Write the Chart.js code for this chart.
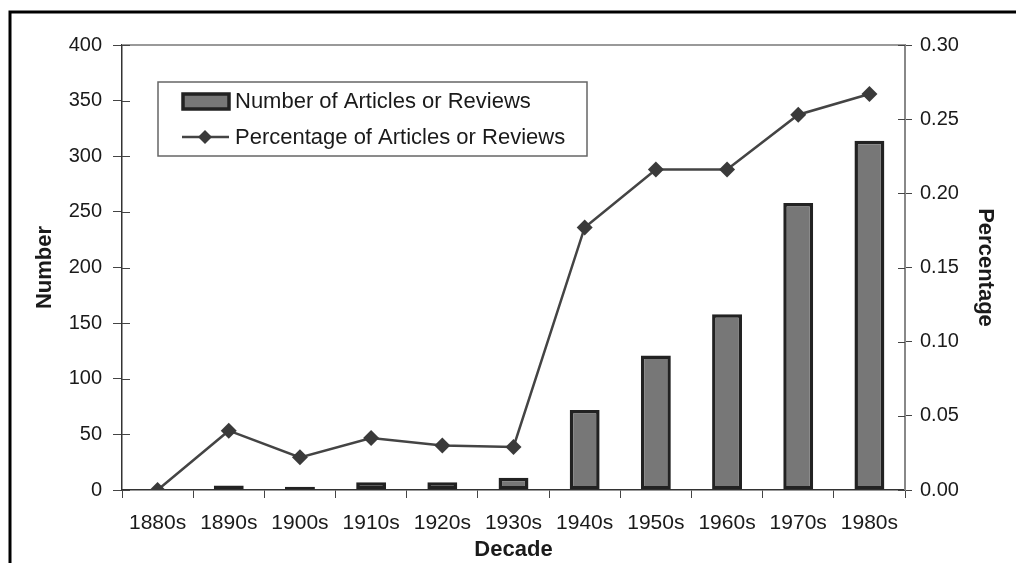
<!DOCTYPE html>
<html>
<head>
<meta charset="utf-8">
<script src="https://cdn.jsdelivr.net/npm/chart.js@4.4.0/dist/chart.umd.min.js"></script>
<style>
  html, body { margin: 0; padding: 0; background: #fff; overflow: hidden; }
  canvas { display: block; }
</style>
</head>
<body>
<canvas id="chart" width="1016" height="563"></canvas>
<script>
"use strict"

// data
const decades = ['1880s', '1890s', '1900s', '1910s', '1920s', '1930s', '1940s', '1950s', '1960s', '1970s', '1980s'];
const articleCounts = [0, 4, 3, 7, 7, 11, 72, 121, 158, 258, 314];
const articleShares = [0.000, 0.040, 0.022, 0.035, 0.030, 0.029, 0.177, 0.216, 0.216, 0.253, 0.267];
const countLabel = 'Number of Articles or Reviews';
const shareLabel = 'Percentage of Articles or Reviews';

const FONT = 'Liberation Sans, Arial, Helvetica, sans-serif';

// frame, plot border, crossing ticks and the boxed legend
const decorPlugin = {
    id: 'decor',
    afterDraw(chart) {
        const ctx = chart.ctx;
        const area = chart.chartArea;
        ctx.save();

        // outer frame (top + left)
        ctx.strokeStyle = '#000';
        ctx.lineWidth = 3;
        ctx.beginPath();
        ctx.moveTo(10, 563);
        ctx.lineTo(10, 12);
        ctx.lineTo(1016, 12);
        ctx.stroke();

        // grey top border of plot
        ctx.strokeStyle = '#999';
        ctx.lineWidth = 2;
        ctx.beginPath();
        ctx.moveTo(area.left, area.top);
        ctx.lineTo(area.right, area.top);
        ctx.stroke();

        // inner halves of the y ticks
        ctx.strokeStyle = '#444';
        ctx.lineWidth = 1;
        const yl = chart.scales.y;
        yl.ticks.forEach((t, i) => {
            const py = Math.round(yl.getPixelForTick(i)) + 0.5;
            ctx.beginPath();
            ctx.moveTo(area.left, py);
            ctx.lineTo(area.left + 8, py);
            ctx.stroke();
        });
        const yr = chart.scales.y2;
        yr.ticks.forEach((t, i) => {
            const py = Math.round(yr.getPixelForTick(i)) + 0.5;
            ctx.beginPath();
            ctx.moveTo(area.right, py);
            ctx.lineTo(area.right - 7, py);
            ctx.stroke();
        });

        // legend box
        const bx = 158, by = 82, bw = 429, bh = 74;
        ctx.fillStyle = '#fff';
        ctx.fillRect(bx, by, bw, bh);
        ctx.strokeStyle = '#666';
        ctx.lineWidth = 1.5;
        ctx.strokeRect(bx, by, bw, bh);

        const barDs = chart.data.datasets[0];
        const lineDs = chart.data.datasets[1];

        ctx.fillStyle = barDs.backgroundColor;
        ctx.fillRect(183, 94, 46, 15);
        ctx.strokeStyle = barDs.borderColor;
        ctx.lineWidth = 3.5;
        ctx.strokeRect(183, 94, 46, 15);

        ctx.strokeStyle = lineDs.borderColor;
        ctx.lineWidth = 2.5;
        ctx.beginPath();
        ctx.moveTo(182, 137);
        ctx.lineTo(229, 137);
        ctx.stroke();
        ctx.fillStyle = lineDs.pointBackgroundColor;
        ctx.beginPath();
        ctx.moveTo(205, 130);
        ctx.lineTo(212, 137);
        ctx.lineTo(205, 144);
        ctx.lineTo(198, 137);
        ctx.closePath();
        ctx.fill();

        ctx.fillStyle = '#1a1a1a';
        ctx.font = '22px ' + FONT;
        ctx.textBaseline = 'middle';
        ctx.textAlign = 'left';
        ctx.fillText(barDs.label, 235, 102);
        ctx.fillText(lineDs.label, 235, 138);

        ctx.restore();
    }
};

const yTickFont = { family: FONT, size: 20 };
const xTickFont = { family: FONT, size: 21 };
const titleFont = { family: FONT, size: 22, weight: 'bold' };

new Chart(document.getElementById('chart'), {
    type: 'bar',
    data: {
        labels: decades,
        datasets: [{
            type: 'bar',
            label: countLabel,
            data: articleCounts,
            yAxisID: 'y',
            backgroundColor: '#777777',
            borderColor: '#222222',
            borderWidth: 3.5,
            borderSkipped: false,
            barPercentage: 0.42,
            categoryPercentage: 1.0,
            order: 2
        }, {
            type: 'line',
            label: shareLabel,
            data: articleShares,
            yAxisID: 'y2',
            borderColor: '#444444',
            borderWidth: 2.5,
            pointStyle: 'rectRot',
            pointRadius: 8,
            pointBackgroundColor: '#3a3a3a',
            pointBorderColor: '#3a3a3a',
            pointBorderWidth: 0,
            tension: 0,
            order: 1
        }]
    },
    options: {
        responsive: false,
        animation: false,
        devicePixelRatio: 1,
        layout: { padding: { top: 45, left: 0, right: 0, bottom: 0 } },
        plugins: {
            legend: { display: false },
            tooltip: { enabled: false }
        },
        scales: {
            x: {
                offset: true,
                grid: {
                    offset: true,
                    drawOnChartArea: false,
                    drawTicks: true,
                    tickLength: 8,
                    color: '#444'
                },
                border: { color: '#333', width: 1.5 },
                ticks: { font: xTickFont, color: '#1a1a1a', padding: 13, maxRotation: 0, autoSkip: false },
                title: { display: true, text: 'Decade', font: titleFont, color: '#1a1a1a', padding: { top: 0, bottom: 0 } },
                afterFit: s => { s.height = 73; }
            },
            y: {
                position: 'left',
                min: 0,
                max: 400,
                ticks: { stepSize: 50, font: yTickFont, color: '#1a1a1a', padding: 11 },
                grid: { drawOnChartArea: false, tickLength: 9, color: '#444' },
                border: { color: '#333', width: 1.5 },
                title: { display: true, text: 'Number', font: titleFont, color: '#1a1a1a', padding: { top: 32, bottom: 0 } },
                afterFit: s => { s.width = 122; }
            },
            y2: {
                position: 'right',
                min: 0,
                max: 0.30,
                ticks: {
                    stepSize: 0.05,
                    font: yTickFont,
                    color: '#1a1a1a',
                    padding: 8,
                    callback: v => v.toFixed(2)
                },
                grid: { drawOnChartArea: false, tickLength: 7, color: '#444' },
                border: { color: '#888', width: 2 },
                title: { display: true, text: 'Percentage', font: titleFont, color: '#1a1a1a', padding: { top: 18, bottom: 0 } },
                afterFit: s => { s.width = 111; }
            }
        }
    },
    plugins: [decorPlugin]
});
</script>
</body>
</html>
